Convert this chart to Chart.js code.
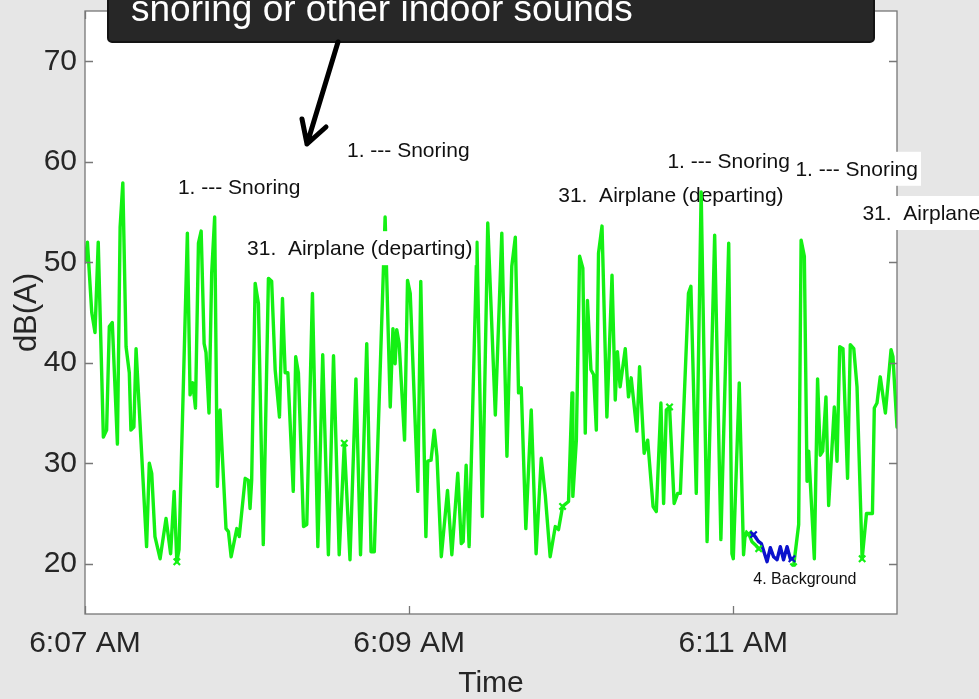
<!DOCTYPE html>
<html><head><meta charset="utf-8">
<script src="https://cdn.jsdelivr.net/npm/chart.js@4.4.0/dist/chart.umd.min.js"></script>
<style>html,body{margin:0;padding:0;background:#e6e6e6;overflow:hidden}canvas{display:block}</style>
</head><body>
<canvas id="c" width="979" height="699"></canvas>
<script>
// seconds after 6:07:00 AM
const timeSec = [0.0,0.9,2.5,3.7,4.9,6.8,8.0,9.0,10.1,12.0,13.0,14.0,15.2,16.4,17.0,18.1,18.9,22.8,23.8,24.7,25.9,27.8,30.0,31.7,33.0,34.0,34.8,37.9,38.9,39.9,40.9,42.0,43.0,44.1,44.8,45.9,46.9,48.0,49.0,50.0,52.2,53.1,54.1,56.2,57.1,59.3,60.5,61.1,61.7,63.0,64.2,66.0,67.9,69.1,70.4,72.0,73.1,74.1,75.1,77.1,78.0,79.0,80.9,82.1,84.2,86.2,88.0,90.1,92.0,94.1,96.0,98.1,100.3,102.0,104.3,105.9,107.1,111.1,113.0,114.0,114.8,115.4,116.3,118.3,119.4,120.4,123.2,124.3,126.2,126.9,128.1,129.3,130.3,131.9,134.2,135.8,138.0,139.3,140.0,141.1,142.2,145.1,147.1,149.1,151.9,154.3,156.2,158.0,159.3,160.5,161.5,163.2,165.2,167.0,168.9,170.4,172.2,174.1,175.3,176.8,179.0,180.3,180.6,181.9,183.1,184.3,185.2,186.0,187.3,188.3,189.3,190.1,191.4,193.2,195.1,196.3,197.1,198.1,200.0,201.2,202.2,204.3,205.3,207.0,208.3,210.3,211.5,213.2,214.2,215.2,216.4,218.1,219.4,220.4,223.4,224.3,226.3,228.1,230.3,233.1,235.4,238.3,239.5,240.0,242.2,243.8,244.4,245.7,246.9,248.1,249.4,255.0,262.3,264.2,265.1,266.3,267.3,267.9,270.0,271.2,272.2,273.1,274.3,275.3,277.4,278.4,279.4,280.6,282.3,283.3,284.6,285.8,287.7,289.3,291.5,292.2,293.2,294.4,296.3,298.4,299.1,300.6];
const dBA = [50.0,52.0,45.0,43.0,52.0,32.6,33.3,43.6,44.0,31.9,53.5,57.9,41.6,39.0,33.3,33.6,41.4,21.7,30.0,29.0,22.7,20.5,24.5,21.0,27.2,20.2,21.4,52.9,36.8,38.0,35.5,51.9,53.1,41.9,41.0,35.0,48.9,54.5,27.7,35.3,23.5,23.2,20.7,23.5,22.7,28.5,28.3,25.5,28.3,47.9,45.9,21.9,48.4,48.1,39.3,34.6,46.4,39.0,39.0,27.2,40.6,39.0,23.7,23.9,46.9,21.7,40.8,20.9,40.7,20.9,32.0,20.4,38.4,20.9,41.9,21.2,21.2,54.5,35.6,43.4,39.9,43.3,41.9,32.3,48.2,46.9,27.2,48.1,22.7,30.2,30.3,33.3,30.7,20.7,27.3,20.9,29.0,22.0,22.2,29.8,21.7,52.0,24.7,53.9,34.8,52.9,30.7,49.6,52.5,37.0,37.5,23.5,35.3,21.0,30.5,26.8,20.7,23.7,23.4,25.7,26.2,37.0,26.7,32.3,50.6,49.4,33.0,46.2,39.3,38.8,33.3,50.9,53.6,34.6,48.7,36.3,41.1,37.6,41.4,36.6,38.5,33.2,39.6,31.0,32.3,25.7,25.2,36.0,26.0,35.3,35.6,26.0,27.0,27.0,46.9,47.6,27.0,57.0,22.2,52.7,22.4,51.9,21.0,20.5,38.0,20.9,23.0,23.0,22.2,21.9,21.5,null,19.7,23.9,52.2,50.6,28.2,31.2,20.5,38.4,30.8,31.2,36.6,25.8,35.6,30.2,41.6,41.4,28.5,41.8,41.4,37.6,20.5,25.0,25.0,35.5,36.0,38.6,35.0,41.3,40.6,33.6];
// "4. Background" segment
const bgTime = [246.7,247.5,249.4,250.4,252.5,253.7,254.9,256.2,257.4,258.6,259.9,261.1,261.7];
const bgdB   = [23.0,22.9,22.2,22.0,20.2,21.6,20.7,20.4,21.7,20.4,21.7,20.5,20.5];
// event boundary markers
const markTime = [34.0,96.0,176.8,216.4,245.7,249.4,262.3,287.7];
const markdB   = [20.2,32.0,25.7,35.6,23.0,21.5,19.7,20.5];
const bgMarkTime = [247.5,261.7];
const bgMarkdB   = [22.9,20.5];
const xTickValues = [0,120,240];
const xTickLabels = ['6:07 AM','6:09 AM','6:11 AM'];
const yTickValues = [20,30,40,50,60,70];
const noteTexts = ['1. --- Snoring','1. --- Snoring','31.  Airplane (departing)','1. --- Snoring','31.  Airplane (departing)','1. --- Snoring','31.  Airplane (departing)','4. Background'];
const noteTime  = [34.4,97.0,60.0,215.6,175.2,263.0,287.8,247.4];
const notedB    = [57.4,61.0,51.3,60.0,56.6,59.2,54.8,18.4];
const calloutText = 'snoring or other indoor sounds';

const FAM = '"Liberation Sans", Arial, sans-serif';
const GREEN = '#14f014';
const BLUE = '#0b12cc';
const TXT = '#262626';

function pts(xs, ys){ return xs.map((x,i)=>({x:x, y:ys[i]})); }

function drawNotes(chart, over){
  const {ctx, scales:{x,y}} = chart;
  ctx.save();
  noteTexts.forEach((txt,i)=>{
    const isBg = txt.startsWith('4.');
    const isOver = !(i===4);
    if (isOver !== over) return;
    const size = isBg ? 16 : 21;
    ctx.font = size + 'px ' + FAM;
    const px = x.getPixelForValue(noteTime[i]);
    const py = y.getPixelForValue(notedB[i]);
    const w = ctx.measureText(txt).width;
    ctx.fillStyle = '#ffffff';
    const h = isBg ? 24 : 34;
    ctx.fillRect(px-3, py-h/2-1, w+6, h);
    ctx.fillStyle = '#111';
    ctx.textBaseline = 'middle';
    ctx.textAlign = 'left';
    ctx.fillText(txt, px, py);
  });
  ctx.restore();
}

const decor = {
  id:'decor',
  beforeDraw(chart){
    const {ctx, chartArea:a} = chart;
    ctx.save();
    ctx.fillStyle = '#ffffff';
    ctx.fillRect(a.left, a.top, a.right-a.left, a.bottom-a.top);
    ctx.restore();
  },
  beforeDatasetsDraw(chart){ drawNotes(chart, false); },
  afterDatasetsDraw(chart){
    const {ctx, chartArea:a, scales:{x,y}} = chart;
    ctx.save();
    // axes box + inward ticks
    ctx.strokeStyle = '#777';
    ctx.lineWidth = 1.3;
    ctx.strokeRect(a.left, a.top, a.right-a.left, a.bottom-a.top);
    ctx.beginPath();
    yTickValues.forEach(v=>{
      const py = Math.round(y.getPixelForValue(v))+0.5;
      ctx.moveTo(a.left, py); ctx.lineTo(a.left+8, py);
      ctx.moveTo(a.right, py); ctx.lineTo(a.right-8, py);
    });
    xTickValues.forEach(v=>{
      const px = Math.round(x.getPixelForValue(v))+0.5;
      ctx.moveTo(px, a.bottom); ctx.lineTo(px, a.bottom-8);
      ctx.moveTo(px, a.top); ctx.lineTo(px, a.top+8);
    });
    ctx.stroke();
    ctx.restore();
    drawNotes(chart, true);
    // callout box
    ctx.save();
    const bx = 108, bw = 766, by = -8, bh = 50;
    ctx.fillStyle = '#272727';
    ctx.strokeStyle = '#141414';
    ctx.lineWidth = 2;
    ctx.beginPath();
    if (ctx.roundRect) ctx.roundRect(bx, by, bw, bh, 4); else ctx.rect(bx, by, bw, bh);
    ctx.fill(); ctx.stroke();
    ctx.fillStyle = '#ffffff';
    ctx.font = '37px ' + FAM;
    ctx.textBaseline = 'alphabetic';
    ctx.fillText(calloutText, 131, 21);
    // arrow
    ctx.strokeStyle = '#000';
    ctx.lineWidth = 5;
    ctx.lineCap = 'round';
    ctx.lineJoin = 'round';
    ctx.beginPath();
    ctx.moveTo(338, 42); ctx.lineTo(307, 144);
    ctx.moveTo(302, 119); ctx.lineTo(307, 144); ctx.lineTo(326, 127);
    ctx.stroke();
    ctx.restore();
  }
};

new Chart(document.getElementById('c').getContext('2d'), {
  type:'line',
  data:{datasets:[
    {label:'bg marks', data:pts(bgMarkTime,bgMarkdB), showLine:false, pointStyle:'crossRot', pointRadius:4.5, pointBorderWidth:2.2, borderColor:BLUE, backgroundColor:BLUE, order:0},
    {label:'marks', data:pts(markTime,markdB), showLine:false, pointStyle:'crossRot', pointRadius:4.5, pointBorderWidth:2.2, borderColor:GREEN, backgroundColor:GREEN, order:1},
    {label:'background', data:pts(bgTime,bgdB), borderColor:BLUE, borderWidth:3.4, pointRadius:0, order:2},
    {label:'level', data:pts(timeSec,dBA), borderColor:GREEN, borderWidth:3.4, pointRadius:0, spanGaps:false, order:3}
  ]},
  options:{
    responsive:false, animation:false, devicePixelRatio:1,
    layout:{padding:{left:0,right:82,top:11,bottom:0}},
    plugins:{legend:{display:false}, tooltip:{enabled:false}},
    elements:{line:{tension:0, borderJoinStyle:'round', borderCapStyle:'round'}},
    scales:{
      x:{type:'linear', min:0, max:300.6,
        afterBuildTicks(s){ s.ticks = xTickValues.map(v=>({value:v})); },
        afterFit(s){ s.height = 85; s.paddingLeft = 0; s.paddingRight = 0; },
        grid:{display:false, drawTicks:false}, border:{display:false},
        ticks:{callback:(v,i)=>xTickLabels[i], font:{family:FAM, size:30}, color:TXT, padding:12, maxRotation:0, autoSkip:false},
        title:{display:true, text:'Time', font:{family:FAM, size:30, lineHeight:1}, color:TXT, padding:{top:0,bottom:0}}
      },
      y:{type:'linear', min:15, max:75,
        afterBuildTicks(s){ s.ticks = yTickValues.map(v=>({value:v})); },
        afterFit(s){ s.width = 85; s.paddingTop = 0; s.paddingBottom = 0; },
        grid:{display:false, drawTicks:false}, border:{display:false},
        ticks:{callback:(v)=>String(v), font:{family:FAM, size:30}, color:TXT, padding:8},
        title:{display:true, text:'dB(A)', font:{family:FAM, size:31, lineHeight:1}, color:TXT, padding:{top:12,bottom:0}}
      }
    }
  },
  plugins:[decor]
});
</script>
</body></html>
